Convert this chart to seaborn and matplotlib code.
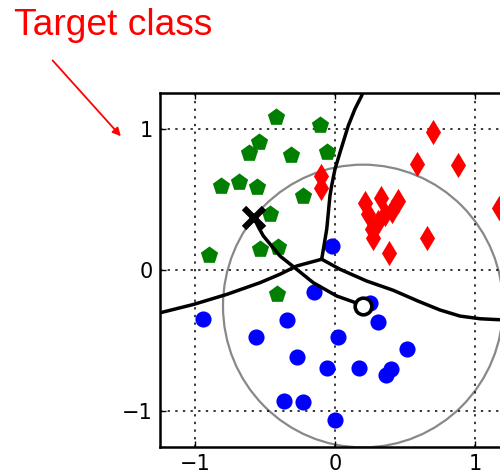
import numpy as np
import pandas as pd
import seaborn as sns
import matplotlib.pyplot as plt
from matplotlib.patches import Circle

# 클래스별 점 데이터
green_x = [-0.421, -0.107, -0.541, -0.612, -0.314, -0.059, -0.816, -0.684, -0.555,
           -0.226, -0.464, -0.536, -0.409, -0.898, -0.416]
green_y = [1.085, 1.028, 0.908, 0.825, 0.813, 0.832, 0.596, 0.619, 0.589,
           0.525, 0.395, 0.147, 0.163, 0.104, -0.172]

red_x = [0.700, 0.586, 0.879, 0.657, 1.171, -0.100, -0.100, 0.214, 0.329, 0.450,
         0.236, 0.307, 0.357, 0.407, 0.264, 0.271, 0.386]
red_y = [0.979, 0.752, 0.745, 0.227, 0.440, 0.667, 0.582, 0.475, 0.511, 0.489,
         0.397, 0.340, 0.397, 0.418, 0.291, 0.227, 0.121]

blue_x = [-0.941, -0.345, -0.150, -0.564, 0.018, -0.274, -0.059, -0.362, -0.226,
          0.000, -0.024, 0.305, 0.250, 0.512, 0.171, 0.364, 0.398]
blue_y = [-0.345, -0.357, -0.154, -0.475, -0.475, -0.617, -0.693, -0.924, -0.934,
          -1.064, 0.170, -0.369, -0.232, -0.562, -0.693, -0.740, -0.697]

# 결정 경계 (그림에서 읽은 점)
left_bx = [-0.095, -0.274, -0.393, -0.536, -0.774, -1.012, -1.250]
left_by = [0.076, 0.028, -0.030, -0.090, -0.173, -0.244, -0.303]
upper_bx = [-0.095, -0.059, -0.036, -0.024, 0.000, 0.036, 0.095, 0.143, 0.191, 0.200]
upper_by = [0.076, 0.289, 0.525, 0.596, 0.714, 0.832, 1.021, 1.140, 1.234, 1.260]
right_bx = [-0.095, 0.036, 0.226, 0.417, 0.593, 0.750, 0.893, 1.036, 1.179, 1.250]
right_by = [0.076, 0.005, -0.078, -0.144, -0.220, -0.283, -0.326, -0.345, -0.352, -0.355]

# 원래 점에서 공격 점까지의 경로
path_x = [-0.580, -0.545, -0.512, -0.393, -0.274, -0.155, 0.012, 0.129, 0.200]
path_y = [0.371, 0.300, 0.241, 0.099, 0.005, -0.090, -0.184, -0.225, -0.255]

start_pt = (0.200, -0.255)
target_pt = (-0.580, 0.371)
radius = 1.0

ticks = [-1, 0, 1]
tick_labels = ['\u22121', '0', '1']

df = pd.concat([
    pd.DataFrame({'x': green_x, 'y': green_y, 'cls': 'green'}),
    pd.DataFrame({'x': red_x, 'y': red_y, 'cls': 'red'}),
    pd.DataFrame({'x': blue_x, 'y': blue_y, 'cls': 'blue'}),
])

fig = plt.figure(figsize=(5, 4.76), dpi=100)
ax = fig.add_axes([0.32, 0.0616, 0.70, 0.7424])

circ = Circle(start_pt, radius, fill=False, edgecolor='#888888', lw=1.6, zorder=1)
ax.add_patch(circ)

palette = {'green': '#007f00', 'red': '#ff0000', 'blue': '#0000ff'}
markers = {'green': 'p', 'red': 'd', 'blue': 'o'}
sizes = {'green': 170, 'red': 165, 'blue': 135}
for cls in ['green', 'red', 'blue']:
    sub = df[df['cls'] == cls]
    sns.scatterplot(data=sub, x='x', y='y', color=palette[cls], marker=markers[cls],
                    s=sizes[cls], linewidth=0, ax=ax, zorder=2, legend=False)

for bx, by in [(left_bx, left_by), (upper_bx, upper_by), (right_bx, right_by)]:
    ax.plot(bx, by, color='black', lw=2.5, zorder=3, solid_joinstyle='round')

ax.plot(path_x, path_y, color='black', lw=2.5, zorder=4, solid_joinstyle='round')
ax.plot(*target_pt, marker='x', color='black', ms=14, mew=4.5, zorder=5)
ax.plot(*start_pt, marker='o', mfc='white', mec='black', ms=12, mew=2.6, zorder=5)

ax.set_xlim(-1.25, 1.25)
ax.set_ylim(-1.25, 1.25)
ax.set_xticks(ticks)
ax.set_xticklabels(tick_labels)
ax.set_yticks(ticks)
ax.set_yticklabels(tick_labels)
ax.set_xlabel('')
ax.set_ylabel('')
ax.grid(True, color='black', linestyle=(0, (1.5, 3.5)), lw=1.1)
ax.tick_params(direction='in', length=4, width=1, top=True, right=True,
               labelsize=15, pad=5)
for sp in ax.spines.values():
    sp.set_linewidth(1.8)

fig.text(14, 441, 'Target class', transform=None, color='red',
         fontsize=26.7, family='Liberation Sans', va='baseline', ha='left')
ax.annotate('', xy=(122.7, 337.7), xycoords='figure pixels',
            xytext=(50.7, 417.7), textcoords='figure pixels',
            arrowprops=dict(arrowstyle='-|>', color='red', lw=1.3, mutation_scale=12),
            annotation_clip=False)

fig.savefig('out.png', dpi=100)
